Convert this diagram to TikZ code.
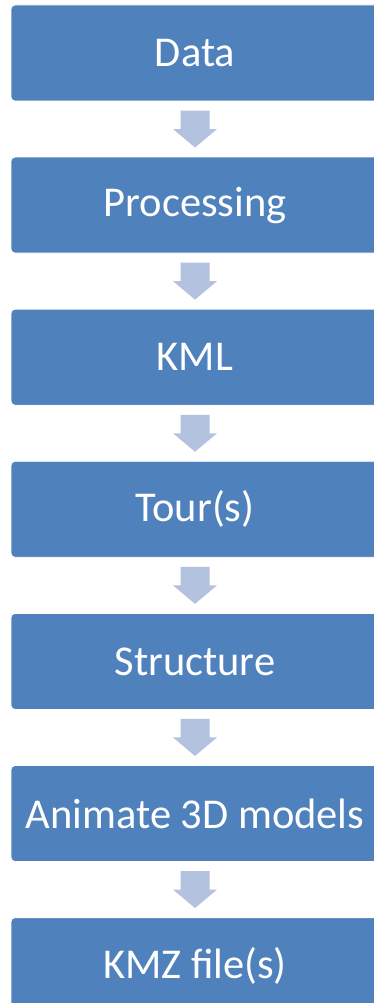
\documentclass[tikz,border=0pt]{standalone}
\usepackage{fontspec}
\setmainfont{Carlito}
\usetikzlibrary{positioning,calc}
\definecolor{boxblue}{RGB}{79,129,189}
\definecolor{arrowblue}{RGB}{179,194,222}

\begin{document}
\begin{tikzpicture}[x=1pt,y=1pt,
  stage/.style={fill=boxblue,draw=white,line width=0.8pt,rounded corners=4pt,
    minimum width=368pt,minimum height=96pt,inner sep=0pt,text=white,
    font=\fontsize{42.5}{50}\selectfont},
  node distance=55.3pt]
\useasboundingbox (0,0) rectangle (374,-1003);

% stages
\node[stage] (data) at (195,-53) {Data};
\node[stage, below=of data] (proc) {Processing};
\node[stage, below=of proc] (kml) {KML};
\node[stage, below=of kml] (tour) {Tour(s)};
\node[stage, below=of tour] (struct) {Structure};
\node[stage, below=of struct] (anim) {Animate 3D models};
\node[stage, below=of anim] (kmz) {KMZ file(s)};

% block arrows between stages
\foreach \a/\b in {data/proc,proc/kml,kml/tour,tour/struct,struct/anim,anim/kmz}
  \fill[arrowblue] ($(\a.south)!0.5!(\b.north)$) ++(-14.5,18.5) -- ++(29,0) -- ++(0,-18.5)
    -- ++(7.5,0) -- ++(-22,-18.5) -- ++(-22,18.5) -- ++(7.5,0) -- cycle;

\end{tikzpicture}
\end{document}
